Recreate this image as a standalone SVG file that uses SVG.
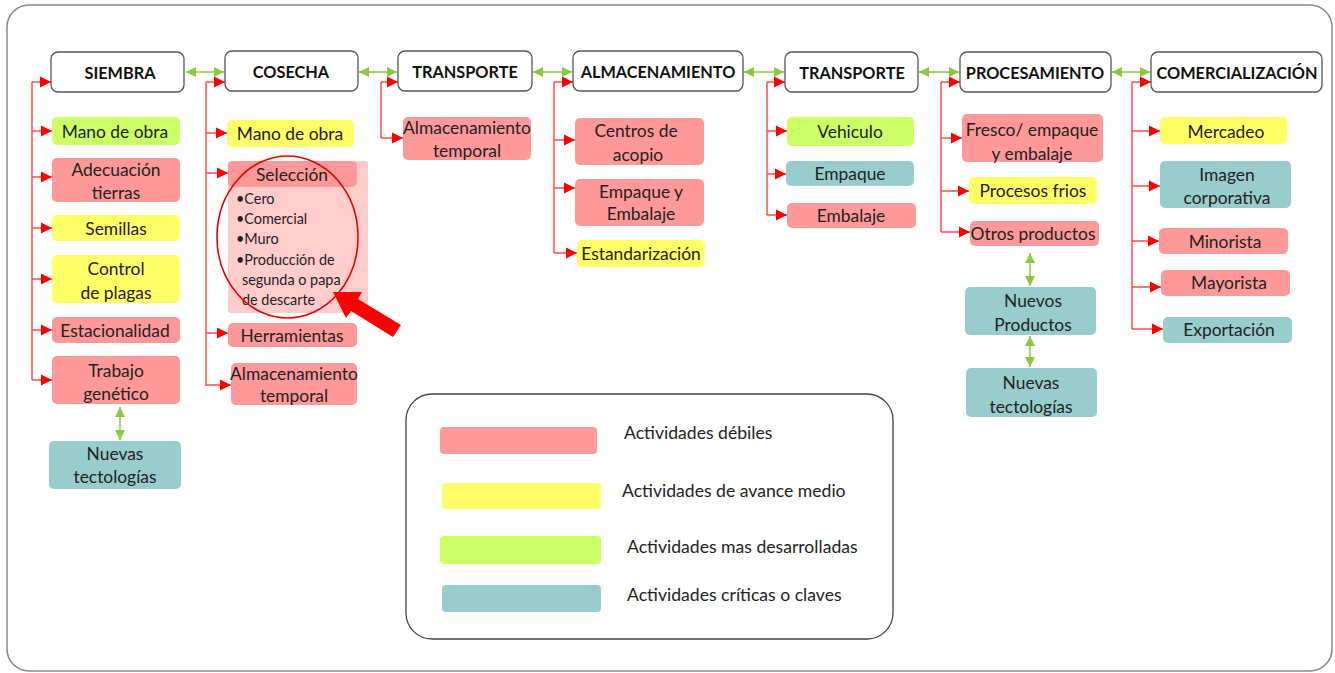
<svg xmlns="http://www.w3.org/2000/svg" width="1335" height="673" viewBox="0 0 1335 673">
<style>
.hdr{fill:#fff;stroke:#555;stroke-width:1.3}
.ht{font-family:Lato,"Liberation Sans",sans-serif;font-weight:bold;font-size:16.3px;fill:#111;text-anchor:middle;dominant-baseline:central}
.t{font-family:Lato,"Liberation Sans",sans-serif;font-size:17.4px;fill:#222;text-anchor:middle;dominant-baseline:central}
.b{font-family:Lato,"Liberation Sans",sans-serif;font-size:14.4px;fill:#222;dominant-baseline:central}
.lt{font-family:Lato,"Liberation Sans",sans-serif;font-size:17.6px;fill:#222;dominant-baseline:central}
.pk{fill:#ff9999}
.yl{fill:#ffff66}
.gr{fill:#ccff66}
.tl{fill:#99cccc}
.red{stroke:#ff4d4d;stroke-width:1.5;fill:none}
.rb{stroke:#ff4d4d;stroke-width:1.5;fill:none;marker-end:url(#ra)}
.gl{stroke:#8dc63f;stroke-width:1.5;fill:none;marker-start:url(#gs);marker-end:url(#ge)}
</style>
<defs>
<marker id="ra" markerUnits="userSpaceOnUse" markerWidth="12" markerHeight="12" refX="11" refY="6" orient="auto"><path d="M0,0.5 L11,6 L0,11.5 Z" fill="#ff0000"/></marker>
<marker id="ge" markerUnits="userSpaceOnUse" markerWidth="11" markerHeight="12" refX="10" refY="6" orient="auto"><path d="M0,1 L10,6 L0,11 Z" fill="#8dc63f"/></marker>
<marker id="gs" markerUnits="userSpaceOnUse" markerWidth="11" markerHeight="12" refX="0" refY="6" orient="auto"><path d="M10,1 L0,6 L10,11 Z" fill="#8dc63f"/></marker>
</defs>
<rect width="1335" height="673" fill="#fff"/>
<rect x="7" y="5" width="1325" height="666" rx="22" fill="none" stroke="#888" stroke-width="1.5"/>

<g id="connectors">
<path class="gl" d="M186,72 H224"/>
<path class="gl" d="M359,72 H397"/>
<path class="gl" d="M533,72 H572"/>
<path class="gl" d="M744,72 H784"/>
<path class="gl" d="M919,72 H959"/>
<path class="gl" d="M1112,72 H1150"/>
<path class="gl" d="M120,407 V440"/>
<path class="gl" d="M1030,253 V286"/>
<path class="gl" d="M1030,336 V367"/>
<path class="red" d="M32,82 V380"/>
<path class="rb" d="M32,82 H51"/><path class="rb" d="M32,131 H52"/><path class="rb" d="M32,177 H52"/><path class="rb" d="M32,228 H52"/><path class="rb" d="M32,279 H52"/><path class="rb" d="M32,330 H52"/><path class="rb" d="M32,380 H52"/>
<path class="red" d="M206,82 V386"/>
<path class="rb" d="M206,82 H225"/><path class="rb" d="M206,133 H227"/><path class="rb" d="M206,173 H228"/><path class="rb" d="M206,333 H228"/><path class="rb" d="M206,385 H231"/>
<path class="red" d="M381,82 V138"/>
<path class="rb" d="M381,82 H398"/><path class="rb" d="M381,138 H403"/>
<path class="red" d="M554,82 V253"/>
<path class="rb" d="M554,82 H573"/><path class="rb" d="M554,140 H575"/><path class="rb" d="M554,188 H575"/><path class="rb" d="M554,253 H577"/>
<path class="red" d="M767,82 V215"/>
<path class="rb" d="M767,82 H785"/><path class="rb" d="M767,131 H787"/><path class="rb" d="M767,174 H786"/><path class="rb" d="M767,215 H787"/>
<path class="red" d="M941,82 V232"/>
<path class="rb" d="M941,82 H960"/><path class="rb" d="M941,138 H962"/><path class="rb" d="M941,191 H969"/><path class="rb" d="M941,232 H970"/>
<path class="red" d="M1132,82 V329"/>
<path class="rb" d="M1132,82 H1151"/><path class="rb" d="M1132,131 H1160"/><path class="rb" d="M1132,186 H1160"/><path class="rb" d="M1132,241 H1159"/><path class="rb" d="M1132,287 H1161"/><path class="rb" d="M1132,329 H1163"/>
</g>

<g id="h-siembra"><rect class="hdr" x="51" y="52" width="133" height="40" rx="7"/><text class="ht" x="120" y="72">SIEMBRA</text></g>
<g id="h-cosecha"><rect class="hdr" x="225" y="51" width="133" height="40" rx="7"/><text class="ht" x="291" y="71">COSECHA</text></g>
<g id="h-transporte1"><rect class="hdr" x="398" y="51" width="134" height="40" rx="7"/><text class="ht" x="465" y="71">TRANSPORTE</text></g>
<g id="h-almacenamiento"><rect class="hdr" x="573" y="51" width="170" height="40" rx="7"/><text class="ht" x="658" y="71">ALMACENAMIENTO</text></g>
<g id="h-transporte2"><rect class="hdr" x="785" y="52" width="133" height="40" rx="7"/><text class="ht" x="852" y="72">TRANSPORTE</text></g>
<g id="h-procesamiento"><rect class="hdr" x="960" y="52" width="151" height="40" rx="7"/><text class="ht" x="1035" y="72">PROCESAMIENTO</text></g>
<g id="h-comercializacion"><rect class="hdr" x="1151" y="52" width="171" height="40" rx="7"/><text class="ht" x="1237" y="72">COMERCIALIZACIÓN</text></g>

<g id="s-mano"><rect class="gr" x="52" y="117" width="128" height="28" rx="5"/><text class="t" x="115" y="131">Mano de obra</text></g>
<g id="s-adecuacion"><rect class="pk" x="52" y="158" width="128" height="44" rx="5"/><text class="t" x="116" y="169">Adecuación</text><text class="t" x="116" y="192">tierras</text></g>
<g id="s-semillas"><rect class="yl" x="52" y="215" width="128" height="26" rx="5"/><text class="t" x="116" y="228">Semillas</text></g>
<g id="s-control"><rect class="yl" x="52" y="255" width="128" height="48" rx="5"/><text class="t" x="116" y="268">Control</text><text class="t" x="116" y="292">de plagas</text></g>
<g id="s-estacionalidad"><rect class="pk" x="52" y="317" width="128" height="26" rx="5"/><text class="t" x="115" y="330">Estacionalidad</text></g>
<g id="s-trabajo"><rect class="pk" x="52" y="356" width="128" height="48" rx="5"/><text class="t" x="116" y="370">Trabajo</text><text class="t" x="116" y="393">genético</text></g>
<g id="s-nuevas"><rect class="tl" x="49" y="441" width="132" height="48" rx="5"/><text class="t" x="115" y="453">Nuevas</text><text class="t" x="115" y="476">tectologías</text></g>

<g id="c-mano"><rect class="yl" x="227" y="120" width="127" height="27" rx="5"/><text class="t" x="290" y="133">Mano de obra</text></g>
<g id="c-seleccion">
<rect fill="#ffcccc" x="228" y="161" width="140" height="152" rx="3"/>
<rect class="pk" x="228" y="161" width="129" height="26" rx="5"/><text class="t" x="292" y="174">Selección</text>
<text class="b" x="236" y="198">•Cero</text>
<text class="b" x="236" y="218">•Comercial</text>
<text class="b" x="236" y="238">•Muro</text>
<text class="b" x="236" y="259">•Producción de</text>
<text class="b" x="242" y="279">segunda o papa</text>
<text class="b" x="242" y="299">de descarte</text>
<ellipse cx="287.5" cy="237" rx="70.5" ry="81" fill="none" stroke="#ee0000" stroke-width="1.6"/>
<polygon points="333,292 362,292 358,299 401,325 393,337 351,311 346,318" fill="#ff0000"/>
</g>
<g id="c-herramientas"><rect class="pk" x="228" y="323" width="129" height="24" rx="5"/><text class="t" x="292" y="335">Herramientas</text></g>
<g id="c-almacenamiento"><rect class="pk" x="231" y="363" width="126" height="42" rx="5"/><text class="t" x="294" y="373">Almacenamiento</text><text class="t" x="294" y="395">temporal</text></g>

<g id="t-almacenamiento"><rect class="pk" x="403" y="117" width="128" height="43" rx="5"/><text class="t" x="467" y="127">Almacenamiento</text><text class="t" x="467" y="150">temporal</text></g>

<g id="a-centros"><rect class="pk" x="575" y="118" width="129" height="47" rx="5"/><text class="t" x="636" y="130">Centros de</text><text class="t" x="638" y="154">acopio</text></g>
<g id="a-empaque"><rect class="pk" x="575" y="179" width="129" height="47" rx="5"/><text class="t" x="641" y="191">Empaque y</text><text class="t" x="641" y="213">Embalaje</text></g>
<g id="a-estandarizacion"><rect class="yl" x="577" y="240" width="128" height="27" rx="5"/><text class="t" x="641" y="253">Estandarización</text></g>

<g id="t2-vehiculo"><rect class="gr" x="787" y="117" width="127" height="29" rx="5"/><text class="t" x="850" y="131">Vehiculo</text></g>
<g id="t2-empaque"><rect class="tl" x="786" y="161" width="128" height="25" rx="5"/><text class="t" x="850" y="173">Empaque</text></g>
<g id="t2-embalaje"><rect class="pk" x="787" y="203" width="129" height="25" rx="5"/><text class="t" x="851" y="215">Embalaje</text></g>

<g id="p-fresco"><rect class="pk" x="962" y="114" width="141" height="48" rx="5"/><text class="t" x="1032" y="129">Fresco/ empaque</text><text class="t" x="1032" y="153">y embalaje</text></g>
<g id="p-frios"><rect class="yl" x="969" y="177" width="128" height="27" rx="5"/><text class="t" x="1033" y="190">Procesos frios</text></g>
<g id="p-otros"><rect class="pk" x="970" y="221" width="129" height="25" rx="5"/><text class="t" x="1033" y="233">Otros productos</text></g>
<g id="p-nuevosprod"><rect class="tl" x="965" y="287" width="131" height="48" rx="5"/><text class="t" x="1033" y="300">Nuevos</text><text class="t" x="1033" y="324">Productos</text></g>
<g id="p-nuevastec"><rect class="tl" x="966" y="368" width="131" height="49" rx="5"/><text class="t" x="1031" y="382">Nuevas</text><text class="t" x="1031" y="406">tectologías</text></g>

<g id="m-mercadeo"><rect class="yl" x="1160" y="117" width="127" height="27" rx="5"/><text class="t" x="1226" y="131">Mercadeo</text></g>
<g id="m-imagen"><rect class="tl" x="1160" y="161" width="131" height="47" rx="5"/><text class="t" x="1227" y="174">Imagen</text><text class="t" x="1227" y="197">corporativa</text></g>
<g id="m-minorista"><rect class="pk" x="1159" y="228" width="129" height="26" rx="5"/><text class="t" x="1225" y="241">Minorista</text></g>
<g id="m-mayorista"><rect class="pk" x="1161" y="270" width="129" height="26" rx="5"/><text class="t" x="1229" y="282">Mayorista</text></g>
<g id="m-exportacion"><rect class="tl" x="1163" y="317" width="129" height="26" rx="5"/><text class="t" x="1229" y="329">Exportación</text></g>

<g id="legend">
<rect x="406" y="394" width="487" height="245" rx="26" fill="#fff" stroke="#444" stroke-width="1.3"/>
<rect class="pk" x="440" y="427" width="157" height="27" rx="4"/>
<rect class="yl" x="442" y="483" width="159" height="26" rx="4"/>
<rect class="gr" x="440" y="536" width="161" height="28" rx="4"/>
<rect class="tl" x="442" y="585" width="159" height="27" rx="4"/>
<text class="lt" x="624" y="432">Actividades débiles</text>
<text class="lt" x="622" y="490">Actividades de avance medio</text>
<text class="lt" x="627" y="546">Actividades mas desarrolladas</text>
<text class="lt" x="627" y="594">Actividades críticas o claves</text>
</g>
</svg>
